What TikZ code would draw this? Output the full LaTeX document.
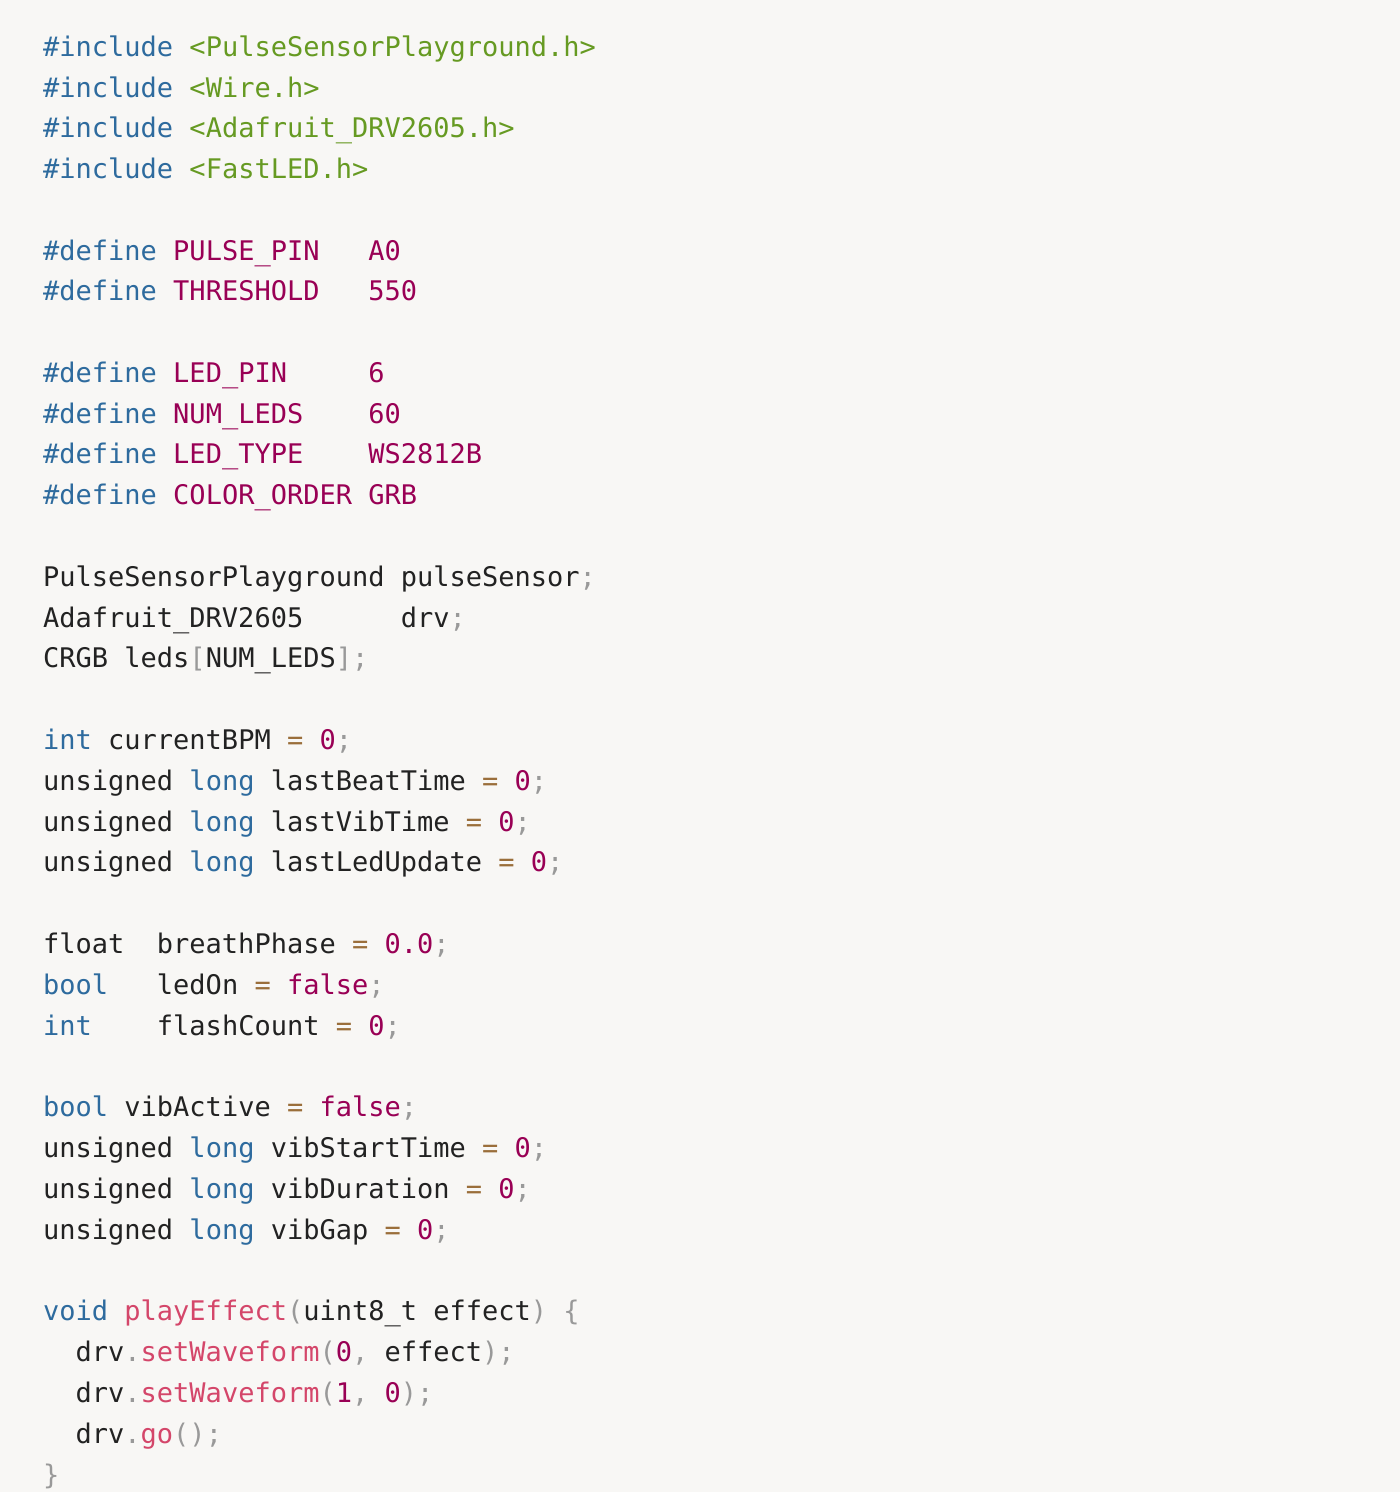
\documentclass[tikz,border=0pt]{standalone}
\usepackage{fontspec}
\setmonofont{DejaVu Sans Mono}
\definecolor{bg}{HTML}{F8F7F5}
\definecolor{kwc}{HTML}{2E6B9E}
\definecolor{stc}{HTML}{669A22}
\definecolor{nmc}{HTML}{990055}
\definecolor{fnc}{HTML}{D4466A}
\definecolor{pnc}{HTML}{999999}
\definecolor{opc}{HTML}{9A6E3A}
\definecolor{txc}{HTML}{222222}
\newcommand{\kw}[1]{\textcolor{kwc}{#1}}
\newcommand{\st}[1]{\textcolor{stc}{#1}}
\newcommand{\nm}[1]{\textcolor{nmc}{#1}}
\newcommand{\fn}[1]{\textcolor{fnc}{#1}}
\newcommand{\pn}[1]{\textcolor{pnc}{#1}}
\newcommand{\op}[1]{\textcolor{opc}{#1}}
\tikzset{codeline/.style={anchor=base west,inner sep=0pt,font=\ttfamily\fontsize{27}{27}\selectfont,text=txc}}
\begin{document}
\begin{tikzpicture}[x=1pt,y=1pt]
\fill[bg] (0,0) rectangle (1400,1492);
\useasboundingbox (0,0) rectangle (1400,1492);
\def\L#1#2#3{\node[codeline] (#1) at (43,{1492-#2-9}) {#3};}
\L{l1}{48}{\kw{\#include}~\st{<PulseSensorPlayground.h>}}
\L{l2}{89}{\kw{\#include}~\st{<Wire.h>}}
\L{l3}{129}{\kw{\#include}~\st{<Adafruit\_DRV2605.h>}}
\L{l4}{170}{\kw{\#include}~\st{<FastLED.h>}}
\L{l5}{252}{\kw{\#define}~\nm{PULSE\_PIN~~~A0}}
\L{l6}{292}{\kw{\#define}~\nm{THRESHOLD~~~550}}
\L{l7}{374}{\kw{\#define}~\nm{LED\_PIN~~~~~6}}
\L{l8}{415}{\kw{\#define}~\nm{NUM\_LEDS~~~~60}}
\L{l9}{455}{\kw{\#define}~\nm{LED\_TYPE~~~~WS2812B}}
\L{l10}{496}{\kw{\#define}~\nm{COLOR\_ORDER~GRB}}
\L{l11}{578}{PulseSensorPlayground~pulseSensor\pn{;}}
\L{l12}{619}{Adafruit\_DRV2605~~~~~~drv\pn{;}}
\L{l13}{659}{CRGB~leds\pn{[}NUM\_LEDS\pn{];}}
\L{l14}{741}{\kw{int}~currentBPM~\op{=}~\nm{0}\pn{;}}
\L{l15}{782}{unsigned~\kw{long}~lastBeatTime~\op{=}~\nm{0}\pn{;}}
\L{l16}{823}{unsigned~\kw{long}~lastVibTime~\op{=}~\nm{0}\pn{;}}
\L{l17}{863}{unsigned~\kw{long}~lastLedUpdate~\op{=}~\nm{0}\pn{;}}
\L{l18}{945}{float~~breathPhase~\op{=}~\nm{0.0}\pn{;}}
\L{l19}{986}{\kw{bool}~~~ledOn~\op{=}~\nm{false}\pn{;}}
\L{l20}{1027}{\kw{int}~~~~flashCount~\op{=}~\nm{0}\pn{;}}
\L{l21}{1108}{\kw{bool}~vibActive~\op{=}~\nm{false}\pn{;}}
\L{l22}{1149}{unsigned~\kw{long}~vibStartTime~\op{=}~\nm{0}\pn{;}}
\L{l23}{1190}{unsigned~\kw{long}~vibDuration~\op{=}~\nm{0}\pn{;}}
\L{l24}{1231}{unsigned~\kw{long}~vibGap~\op{=}~\nm{0}\pn{;}}
\L{l25}{1312}{\kw{void}~\fn{playEffect}\pn{(}uint8\_t~effect\pn{)}~\pn{\{}}
\L{l26}{1353}{~~drv\pn{.}\fn{setWaveform}\pn{(}\nm{0}\pn{,}~effect\pn{);}}
\L{l27}{1394}{~~drv\pn{.}\fn{setWaveform}\pn{(}\nm{1}\pn{,}~\nm{0}\pn{);}}
\L{l28}{1435}{~~drv\pn{.}\fn{go}\pn{();}}
\L{l29}{1475}{\pn{\}}}
\end{tikzpicture}
\end{document}
